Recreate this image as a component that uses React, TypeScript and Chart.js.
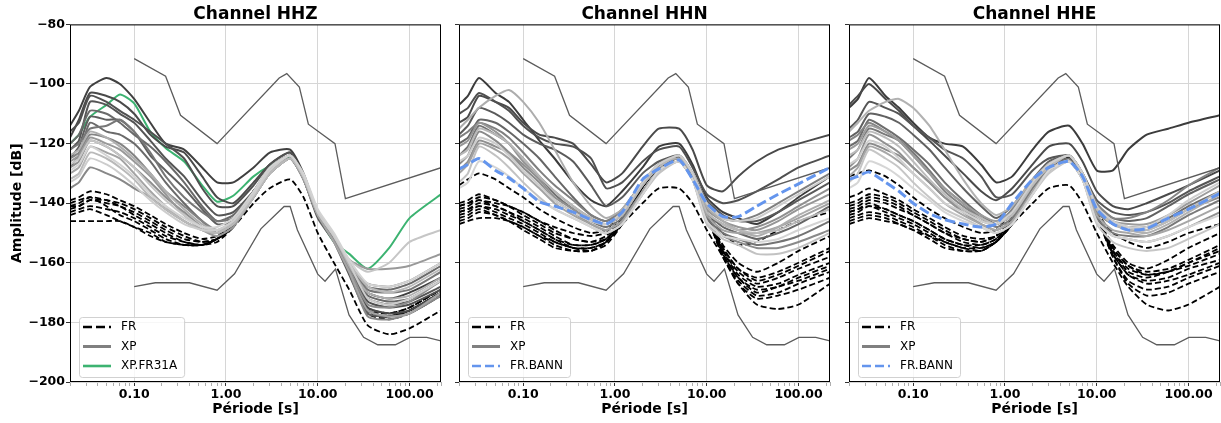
import React, { useEffect, useRef } from 'react';
import { Chart, registerables } from 'chart.js';

Chart.register(...registerables);

// ---------- data ----------
const PERIODS = [0.02, 0.025, 0.033, 0.05, 0.07, 0.1, 0.15, 0.22, 0.35, 0.55, 0.8, 1.2, 2, 3, 5, 7, 10, 15, 22, 35, 60, 100, 220];

const NLNM_PERIODS = [0.1, 0.17, 0.4, 0.8, 1.24, 2.4, 4.3, 5, 6, 10, 12, 15.6, 21.9, 31.6, 45, 70, 101, 154, 220];
const NLNM_DB = [-168, -166.7, -166.7, -169.2, -163.7, -148.6, -141.1, -141.1, -149, -163.8, -166.2, -162.1, -177.5, -185, -187.5, -187.5, -185, -185, -186.2];
const NHNM_PERIODS = [0.1, 0.22, 0.32, 0.8, 3.8, 4.6, 6.3, 7.9, 15.4, 20, 220];
const NHNM_DB = [-91.5, -97.4, -110.5, -120, -98, -96.5, -101, -113.5, -120, -138.5, -128.1];

const X_MIN = 0.02;
const X_MAX = 220;
const Y_MIN = -200;
const Y_MAX = -80;
const Y_STEP = 20;

// Channel HHZ
const HHZ_XP = [
  [-114, -109, -101, -98, -100, -105, -113, -120, -122, -128, -133, -133, -128, -123, -122, -130, -143, -151, -160, -170, -172, -170, -165],
  [-118, -112, -103, -104, -106, -110, -117, -121, -123, -131, -138, -140, -133, -127, -123, -131, -144, -152, -163, -175, -177, -176, -170],
  [-122, -119, -106, -107, -110, -113, -119, -125, -131, -139, -144, -143, -136, -129, -124, -132, -144, -152, -162, -172, -174, -173, -168],
  [-125, -121, -111, -112, -112, -116, -124, -129, -135, -142, -147, -146, -137, -129, -125, -132, -145, -153, -164, -177, -178, -177, -171],
  [-128, -124, -113, -116, -117, -120, -126, -133, -140, -146, -150, -147, -138, -130, -125, -132, -144, -152, -162, -171, -173, -172, -166],
  [-122, -120, -115, -114, -112, -116, -123, -131, -138, -143, -146, -145, -137, -129, -124, -131, -143, -151, -160, -169, -170, -169, -163],
  [-125, -123, -117, -118, -120, -124, -130, -136, -141, -146, -149, -146, -137, -129, -124, -131, -143, -151, -161, -167, -168, -166, -160],
  [-128, -126, -119, -121, -124, -128, -133, -138, -143, -148, -150, -147, -138, -130, -125, -132, -144, -152, -162, -174, -175, -173, -166],
  [-126, -124, -118, -120, -122, -126, -131, -137, -144, -149, -151, -148, -138, -130, -125, -131, -143, -151, -159, -162, -162, -161, -157],
  [-130, -128, -121, -123, -125, -130, -136, -141, -146, -149, -150, -147, -138, -130, -125, -132, -144, -153, -163, -176, -178, -177, -170],
  [-124, -122, -116, -118, -121, -125, -130, -136, -142, -147, -149, -147, -138, -130, -125, -131, -143, -151, -161, -170, -172, -171, -165],
  [-132, -130, -123, -125, -128, -132, -138, -142, -146, -149, -150, -147, -138, -130, -125, -131, -143, -151, -160, -168, -170, -168, -162],
  [-127, -125, -119, -121, -124, -128, -134, -139, -144, -148, -149, -146, -137, -129, -124, -131, -143, -151, -159, -163, -160, -153, -149],
  [-133, -131, -125, -127, -130, -134, -139, -143, -147, -149, -149, -146, -137, -129, -124, -131, -143, -151, -160, -172, -174, -172, -166],
  [-129, -127, -121, -124, -127, -131, -137, -141, -145, -148, -148, -145, -136, -128, -124, -130, -142, -150, -159, -167, -168, -166, -160],
  [-135, -133, -128, -130, -132, -135, -138, -142, -146, -149, -150, -147, -138, -130, -125, -132, -144, -152, -163, -178, -179, -177, -171],
  [-116, -113, -104, -106, -109, -112, -116, -120, -125, -135, -141, -141, -134, -127, -123, -131, -144, -152, -162, -173, -175, -174, -169],
  [-120, -117, -109, -110, -113, -117, -121, -126, -133, -141, -146, -144, -136, -128, -124, -131, -143, -151, -161, -168, -169, -167, -161],
];
const HHZ_XP_GRAYS = ['#404040', '#4a4a4a', '#555555', '#5e5e5e', '#6a6a6a', '#777777', '#838383', '#8e8e8e', '#999999', '#a4a4a4', '#afafaf', '#b9b9b9', '#c6c6c6', '#cdcdcd', '#d3d3d3', '#888888', '#505050', '#6a6a6a'];
const HHZ_FR = [
  [-139, -138, -136, -137, -139, -141, -144, -147, -150, -152, -151, -147, -136, -129.5, -124.5, -131.5, -144, -152, -162, -176, -178, -176, -170],
  [-141, -140, -138, -139, -141, -143, -146, -149, -152, -153, -152, -148, -136, -129.5, -124.5, -131.5, -144, -152, -163, -177, -179, -177, -171],
  [-142, -141, -139, -140, -141, -144, -147, -150, -153, -154, -152, -148, -136, -129.5, -124.5, -131.5, -144, -152, -162, -175, -177, -175, -169],
  [-143, -142, -141, -142, -143, -145, -148, -151, -153, -154, -153, -148, -136, -129.5, -124.5, -131.5, -144, -152, -163, -177, -178, -176, -170],
  [-140, -139, -138, -141, -144, -146, -149, -152, -154, -154, -152, -147, -136, -129.5, -124.5, -131.5, -144, -152, -162, -176, -177, -175, -169],
  [-144, -143, -142, -144, -146, -148, -150, -153, -154, -154, -152, -148, -136, -129.5, -124.5, -131.5, -144, -152, -163, -176, -178, -176, -170],
  [-146, -146, -146, -146, -146, -148, -151, -153, -154, -154, -152, -148, -140, -135, -132, -138, -150, -160, -169, -181, -184, -182, -176],
  [-141, -141, -139, -139, -140, -142, -145, -148, -151, -153, -152, -147, -136, -129.5, -124.5, -131.5, -144, -152, -163, -177, -178, -176, -170],
];
const HHZ_FR31A = [-120, -117, -111, -107, -103.5, -106.5, -116, -121.5, -126, -134, -139.5, -137.5, -131, -127.5, -124.5, -131, -144, -153, -157, -162, -155, -145, -137];

// Channel HHN
const HHN_XP = [
  [-107, -104, -98, -103, -106, -112, -119, -125, -133, -139, -141, -136, -128, -121, -120, -127, -138, -143, -145, -147, -143, -138, -131],
  [-113, -111, -104, -106, -108, -113, -117, -118, -120, -127, -133, -130, -121, -115, -115, -122, -134, -136, -131, -126, -122, -120, -117],
  [-110, -108, -103, -106, -109, -114, -118, -120, -121, -125, -135, -133, -126, -122, -121, -128, -137, -140, -139, -136, -132, -128, -124],
  [-117, -114, -108, -110, -113, -117, -120, -122, -126, -134, -141, -138, -130, -126, -124, -130, -139, -144, -146, -146, -143, -139, -133],
  [-120, -118, -112, -113, -116, -120, -125, -131, -138, -144, -146, -143, -134, -128, -125, -131, -143, -148, -150, -152, -150, -147, -141],
  [-124, -121, -114, -117, -120, -125, -131, -137, -142, -146, -148, -145, -136, -129, -126, -132, -145, -150, -152, -154, -153, -151, -146],
  [-118, -116, -113, -115, -118, -123, -129, -134, -139, -144, -146, -142, -133, -127, -124, -130, -140, -145, -146, -144, -140, -136, -130],
  [-127, -124, -116, -119, -123, -128, -133, -139, -143, -147, -149, -146, -137, -129, -126, -132, -146, -151, -153, -155, -155, -153, -149],
  [-121, -119, -113, -116, -120, -126, -131, -136, -141, -145, -147, -143, -133, -127, -125, -130, -142, -146, -148, -149, -146, -142, -137],
  [-130, -127, -120, -122, -125, -130, -135, -140, -144, -147, -149, -146, -136, -129, -126, -132, -144, -149, -150, -150, -148, -145, -140],
  [-115, -112, -108, -104, -102, -106, -113, -122, -133, -141, -145, -142, -133, -127, -125, -130, -141, -146, -149, -151, -148, -144, -139],
  [-124, -122, -115, -117, -120, -125, -131, -136, -141, -145, -147, -144, -134, -128, -124, -130, -143, -147, -149, -150, -149, -146, -142],
  [-133, -130, -121, -124, -128, -133, -138, -142, -145, -148, -150, -147, -137, -130, -126, -132, -147, -152, -154, -157, -157, -155, -150],
  [-126, -124, -118, -120, -124, -129, -134, -139, -143, -146, -147, -143, -133, -127, -124, -130, -140, -145, -146, -145, -141, -137, -131],
  [-135, -133, -126, -128, -131, -135, -139, -142, -145, -148, -150, -147, -137, -129, -126, -132, -146, -151, -152, -153, -152, -149, -145],
  [-129, -126, -119, -121, -123, -127, -132, -138, -142, -146, -147, -144, -134, -128, -124, -130, -143, -147, -149, -148, -145, -141, -135],
];
const HHN_XP_GRAYS = ['#3c3c3c', '#4a4a4a', '#505050', '#5a5a5a', '#666666', '#737373', '#7f7f7f', '#8a8a8a', '#969696', '#a2a2a2', '#adadad', '#b8b8b8', '#c2c2c2', '#cccccc', '#d4d4d4', '#909090'];
const HHN_FR = [
  [-134, -132, -130, -132, -135, -138, -142, -145, -148, -150, -149, -143, -134, -128, -124.5, -131, -143, -150, -154, -153, -149, -146, -143],
  [-140, -139, -137, -139, -141, -143, -146, -149, -152, -153, -152, -146, -134.5, -128, -124.5, -131, -144, -154, -160, -163, -160, -156, -151],
  [-141, -140, -139, -140, -141, -143, -146, -148, -150, -151, -150, -145, -134.5, -128, -124.5, -131, -144, -155, -162, -165, -163, -160, -155],
  [-142, -141, -139, -141, -143, -145, -148, -151, -154, -154, -152, -146, -134.5, -128, -124.5, -131, -144, -156, -163, -167, -165, -162, -158],
  [-143, -142, -140, -141, -143, -146, -149, -152, -155, -155, -153, -146, -134.5, -128, -124.5, -131, -144, -156, -164, -168, -167, -164, -160],
  [-144, -143, -141, -143, -145, -147, -150, -153, -155, -156, -153, -147, -134.5, -128, -124.5, -131, -144, -157, -165, -170, -168, -165, -161],
  [-145, -144, -142, -144, -146, -148, -151, -154, -156, -156, -154, -147, -134.5, -128, -124.5, -131, -144, -158, -166, -171, -170, -167, -163],
  [-146, -145, -143, -144, -146, -149, -152, -155, -156, -156, -153, -147, -134.5, -128, -124.5, -131, -144, -158, -167, -172, -171, -169, -165],
  [-147, -146, -145, -145, -146, -148, -151, -153, -155, -155, -153, -147, -140, -135, -135, -140, -149, -158, -167, -174, -175.5, -174, -167],
  [-141, -140, -138, -139, -141, -144, -147, -150, -152, -153, -151, -145, -134.5, -128, -124.5, -131, -144, -155, -162, -166, -164, -161, -156],
  [-143, -142, -141, -142, -144, -146, -149, -152, -154, -154, -152, -146, -134.5, -128, -124.5, -131, -144, -157, -165, -169, -168, -166, -162],
];
const HHN_BANN = [-128.5, -127, -125, -129, -131.5, -135, -139.5, -141, -143, -145.5, -147, -143, -132, -128.5, -125.5, -132, -140, -144.5, -144.5, -141, -137, -133.5, -128];

// Channel HHE
const HHE_XP = [
  [-108, -105, -98, -104, -108, -113, -118, -120, -121, -127, -133, -131, -122, -116, -114, -120, -129, -129, -122, -117, -115, -113, -110.5],
  [-107, -104, -100, -105, -109, -114, -119, -124, -130, -136, -139, -135, -127, -121, -120, -126, -136, -141, -142, -140, -137, -134, -129],
  [-115, -112, -106, -108, -110, -114, -118, -122, -125, -131, -138, -137, -129, -125, -124, -130, -139, -143, -144, -143, -140, -136, -131],
  [-118, -116, -110, -111, -113, -117, -122, -128, -135, -141, -145, -141, -132, -126, -124, -130, -141, -145, -146, -145, -141, -137, -132],
  [-121, -119, -112, -115, -118, -122, -127, -133, -139, -144, -147, -144, -134, -128, -125, -131, -143, -147, -148, -148, -145, -141, -136],
  [-125, -122, -115, -117, -119, -123, -129, -135, -140, -145, -148, -145, -135, -129, -126, -132, -145, -150, -151, -151, -148, -144, -139],
  [-119, -117, -113, -116, -119, -124, -130, -136, -141, -145, -147, -142, -133, -127, -124, -130, -140, -145, -145, -143, -139, -134, -128],
  [-128, -125, -117, -120, -123, -128, -133, -138, -143, -147, -149, -146, -137, -129, -126, -132, -146, -151, -152, -153, -151, -148, -143],
  [-122, -120, -114, -116, -119, -124, -130, -135, -140, -144, -146, -143, -133, -127, -124, -130, -142, -146, -147, -147, -144, -140, -134],
  [-131, -128, -121, -123, -126, -130, -135, -140, -144, -147, -149, -146, -136, -129, -126, -132, -144, -149, -150, -151, -149, -146, -141],
  [-116, -113, -109, -106, -105, -108, -114, -122, -132, -140, -144, -141, -132, -127, -124, -130, -141, -147, -149, -150, -147, -143, -137],
  [-124, -122, -116, -118, -121, -126, -132, -137, -142, -145, -147, -144, -134, -128, -124, -130, -142, -147, -148, -149, -146, -142, -136],
  [-133, -130, -122, -125, -128, -133, -138, -142, -145, -148, -150, -147, -137, -130, -126, -132, -147, -153, -155, -156, -155, -152, -147],
  [-127, -125, -119, -121, -125, -130, -135, -140, -143, -146, -147, -143, -133, -127, -124, -130, -141, -146, -148, -148, -144, -139, -133],
  [-135, -133, -126, -128, -131, -135, -139, -143, -146, -148, -150, -147, -137, -129, -126, -132, -146, -151, -152, -153, -151, -148, -144],
  [-129, -127, -120, -122, -124, -128, -133, -138, -142, -146, -147, -144, -134, -128, -124, -130, -143, -147, -149, -149, -146, -142, -138],
];
const HHE_XP_GRAYS = ['#3c3c3c', '#4a4a4a', '#555555', '#616161', '#6d6d6d', '#797979', '#858585', '#919191', '#9c9c9c', '#a7a7a7', '#b2b2b2', '#bcbcbc', '#c6c6c6', '#cfcfcf', '#d6d6d6', '#8c8c8c'];
const HHE_FR = [
  [-131, -130, -129, -131, -134, -138, -142, -145, -148, -150, -149, -143, -134, -128, -124.5, -131, -143, -150, -153, -155, -153, -150, -147],
  [-138, -137, -135, -137, -139, -142, -145, -148, -151, -152, -151, -145, -134.5, -128, -124.5, -131, -144, -154, -160, -162, -159, -155, -150],
  [-140, -139, -137, -138, -140, -143, -146, -149, -152, -153, -151, -145, -134.5, -128, -124.5, -131, -144, -155, -161, -163, -162, -159, -154],
  [-142, -141, -139, -140, -142, -144, -147, -150, -153, -154, -152, -146, -134.5, -128, -124.5, -131, -144, -156, -162, -164, -163, -161, -157],
  [-143, -142, -140, -142, -144, -146, -149, -152, -154, -155, -153, -146, -134.5, -128, -124.5, -131, -144, -156, -163, -165, -163, -160, -156],
  [-144, -143, -141, -143, -145, -147, -150, -153, -155, -156, -153, -147, -134.5, -128, -124.5, -131, -144, -157, -164, -166, -165, -162, -159],
  [-145, -144, -143, -144, -146, -148, -151, -154, -156, -156, -153, -147, -134.5, -128, -124.5, -131, -144, -158, -166, -169, -168, -165, -161],
  [-146, -145, -144, -145, -147, -149, -152, -155, -156, -156, -153, -147, -134.5, -128, -124.5, -131, -144, -158, -167, -171, -170, -167, -163],
  [-147, -146, -145, -146, -147, -149, -151, -153, -155, -155, -153, -147, -140, -135, -134, -140, -150, -160, -168, -174, -176, -174, -168],
  [-141, -140, -138, -139, -141, -144, -147, -150, -152, -153, -151, -145, -134.5, -128, -124.5, -131, -144, -155, -161, -164, -163, -160, -155],
  [-143, -142, -141, -142, -144, -146, -149, -152, -154, -154, -152, -146, -134.5, -128, -124.5, -131, -144, -157, -164, -167, -166, -164, -160],
];
const HHE_BANN = [-132, -131, -129.5, -133, -136, -140, -143.5, -145.5, -147, -148, -147, -140, -132, -128, -126, -131, -142, -147, -149, -148.5, -145, -142, -136.7];

// ---------- helpers ----------
const FONT = "'DejaVu Sans', sans-serif";
const isDecade = (v: number) => {
  const l = Math.log10(v);
  return Math.abs(l - Math.round(l)) < 1e-6;
};
const pts = (xs: number[], ys: number[]) => xs.map((x, i) => ({ x, y: ys[i] }));
const fmtY = (v: number) => (v < 0 ? '\u2212' + Math.abs(v) : String(v));
// lighter gray curves are painted over darker ones (lower order = drawn later)
const grayOrder = (hex: string) => 2 + (1 - parseInt(hex.slice(1, 3), 16) / 255) * 0.4;

const framePlugin = {
  id: 'frame',
  afterDraw(chart: any) {
    const { ctx, chartArea: a } = chart;
    ctx.save();
    ctx.strokeStyle = '#000';
    ctx.lineWidth = 1;
    ctx.strokeRect(a.left + 0.5, a.top + 0.5, a.right - a.left - 1, a.bottom - a.top - 1);
    ctx.restore();
  },
};

const boxLegendPlugin = {
  id: 'boxLegend',
  afterDatasetsDraw(chart: any, _args: any, opts: any) {
    const items = opts && opts.items;
    if (!items) return;
    const { ctx, chartArea } = chart;
    ctx.save();
    ctx.font = `12px ${FONT}`;
    const textW = Math.max(...items.map((it: any) => ctx.measureText(it.label).width));
    const rowH = 19.5;
    const boxW = 42 + textW + 7;
    const boxH = 21 + (items.length - 1) * rowH;
    const x0 = chartArea.left + 9;
    const y0 = chartArea.bottom - 5 - boxH;
    ctx.beginPath();
    ctx.roundRect(x0 + 0.5, y0 + 0.5, boxW, boxH, 3);
    ctx.fillStyle = 'rgba(255,255,255,0.8)';
    ctx.fill();
    ctx.strokeStyle = 'rgba(204,204,204,0.9)';
    ctx.lineWidth = 1;
    ctx.stroke();
    items.forEach((it: any, i: number) => {
      const cy = y0 + 10 + i * rowH;
      ctx.beginPath();
      ctx.setLineDash(it.dash || []);
      ctx.strokeStyle = it.color;
      ctx.lineWidth = it.width;
      ctx.moveTo(x0 + 4, cy);
      ctx.lineTo(x0 + 32, cy);
      ctx.stroke();
      ctx.setLineDash([]);
      ctx.fillStyle = '#000';
      ctx.textBaseline = 'middle';
      ctx.textAlign = 'left';
      ctx.fillText(it.label, x0 + 42, cy);
    });
    ctx.restore();
  },
};

type Panel = {
  title: string;
  left: number;
  width: number;
  yAxisWidth: number;
  padRight: number;
  showY: boolean;
  xp: number[][];
  grays: string[];
  fr: number[][];
  hl: number[];
  hlLabel: string;
  hlColor: string;
  hlDash: number[];
};

const PANELS: Panel[] = [
  { title: 'Channel HHZ', left: 0, width: 445, yAxisWidth: 70, padRight: 4, showY: true, xp: HHZ_XP, grays: HHZ_XP_GRAYS, fr: HHZ_FR, hl: HHZ_FR31A, hlLabel: 'XP.FR31A', hlColor: '#3cb371', hlDash: [] },
  { title: 'Channel HHN', left: 445, width: 389, yAxisWidth: 14, padRight: 4, showY: false, xp: HHN_XP, grays: HHN_XP_GRAYS, fr: HHN_FR, hl: HHN_BANN, hlLabel: 'FR.BANN', hlColor: '#6495ed', hlDash: [10, 4] },
  { title: 'Channel HHE', left: 834, width: 387, yAxisWidth: 15, padRight: 1, showY: false, xp: HHE_XP, grays: HHE_XP_GRAYS, fr: HHE_FR, hl: HHE_BANN, hlLabel: 'FR.BANN', hlColor: '#6495ed', hlDash: [10, 4] },
];

function buildConfig(p: Panel): any {
  const dashed = p.hlDash.length > 0;
  const datasets: any[] = [
    { label: p.hlLabel, data: pts(PERIODS, p.hl), borderColor: p.hlColor, borderWidth: dashed ? 3 : 2, borderDash: p.hlDash, order: dashed ? 0 : 2.5 },
    { label: 'NHNM', data: pts(NHNM_PERIODS, NHNM_DB), borderColor: '#5c5c5c', borderWidth: 1.3, tension: 0, order: 1 },
    { label: 'NLNM', data: pts(NLNM_PERIODS, NLNM_DB), borderColor: '#5c5c5c', borderWidth: 1.3, tension: 0, order: 1 },
    ...p.xp.map((v, i) => ({ label: 'XP', data: pts(PERIODS, v), borderColor: p.grays[i], borderWidth: 2, order: grayOrder(p.grays[i]) })),
    ...p.fr.map((v) => ({ label: 'FR', data: pts(PERIODS, v), borderColor: '#000000', borderWidth: 1.8, borderDash: [6, 3], order: 3 })),
  ];
  const legendItems = [
    { label: 'FR', color: '#000000', width: 2.6, dash: [9, 4] },
    { label: 'XP', color: '#808080', width: 3, dash: [] },
    { label: p.hlLabel, color: p.hlColor, width: 2.6, dash: dashed ? [9, 4] : [] },
  ];
  return {
    type: 'line',
    data: { datasets },
    plugins: [framePlugin, boxLegendPlugin],
    options: {
      responsive: false,
      animation: false,
      devicePixelRatio: 1,
      layout: { padding: { left: 0, right: p.padRight, top: 0, bottom: 0 } },
      elements: { point: { radius: 0 }, line: { tension: 0.2, fill: false, borderCapStyle: 'butt' } },
      plugins: {
        legend: { display: false },
        tooltip: { enabled: false },
        title: { display: true, text: p.title, fullSize: false, color: '#000', font: { family: FONT, size: 17, weight: 'bold' }, padding: { top: 4, bottom: 0 } },
        boxLegend: { items: legendItems },
      },
      scales: {
        x: {
          type: 'logarithmic',
          min: X_MIN,
          max: X_MAX,
          afterFit: (s: any) => { s.height = 41; },
          border: { display: false },
          grid: {
            color: (c: any) => (c.tick && isDecade(c.tick.value) ? '#d6d6d6' : 'rgba(0,0,0,0)'),
            lineWidth: 1,
            tickLength: 4,
            tickColor: (c: any) => {
              if (!c.tick) return 'rgba(0,0,0,0)';
              const v = c.tick.value;
              if (isDecade(v)) return '#000';
              const r = v / Math.pow(10, Math.floor(Math.log10(v) + 1e-9));
              return Math.abs(r - 1.5) < 1e-6 ? 'rgba(0,0,0,0)' : 'rgba(0,0,0,0.4)';
            },
            tickWidth: 0.8,
          },
          ticks: {
            autoSkip: false,
            maxRotation: 0,
            padding: 1,
            color: '#000',
            font: { family: FONT, size: 12.5, weight: 'bold' },
            callback: (v: any) => (isDecade(Number(v)) ? Number(v).toFixed(2) : ''),
          },
          title: { display: true, text: 'Période [s]', color: '#000', font: { family: FONT, size: 14, weight: 'bold' }, padding: { top: 0, bottom: 5.7 } },
        },
        y: {
          type: 'linear',
          min: Y_MIN,
          max: Y_MAX,
          afterFit: (s: any) => { s.width = p.yAxisWidth; },
          border: { display: false },
          grid: { color: '#d6d6d6', lineWidth: 1, tickLength: 4, tickColor: '#000', tickWidth: 0.8 },
          ticks: {
            stepSize: Y_STEP,
            padding: 1,
            color: '#000',
            font: { family: FONT, size: 12.5, weight: 'bold' },
            callback: (v: any) => (p.showY ? fmtY(Number(v)) : ''),
          },
          title: { display: p.showY, text: 'Amplitude [dB]', color: '#000', font: { family: FONT, size: 14, weight: 'bold' }, padding: { top: 8.5, bottom: 0 } },
        },
      },
    },
  };
}

function PanelChart({ panel }: { panel: Panel }) {
  const ref = useRef<HTMLCanvasElement | null>(null);
  useEffect(() => {
    if (!ref.current) return;
    const chart = new Chart(ref.current, buildConfig(panel));
    return () => chart.destroy();
  }, [panel]);
  return (
    <canvas
      ref={ref}
      width={panel.width}
      height={423}
      style={{ position: 'absolute', left: panel.left, top: 0, width: panel.width, height: 423 }}
    />
  );
}

export default function App() {
  return (
    <div style={{ position: 'absolute', left: 0, top: 0, width: 1221, height: 423, background: '#fff', overflow: 'hidden' }}>
      {PANELS.map((p) => (
        <PanelChart key={p.title} panel={p} />
      ))}
    </div>
  );
}
